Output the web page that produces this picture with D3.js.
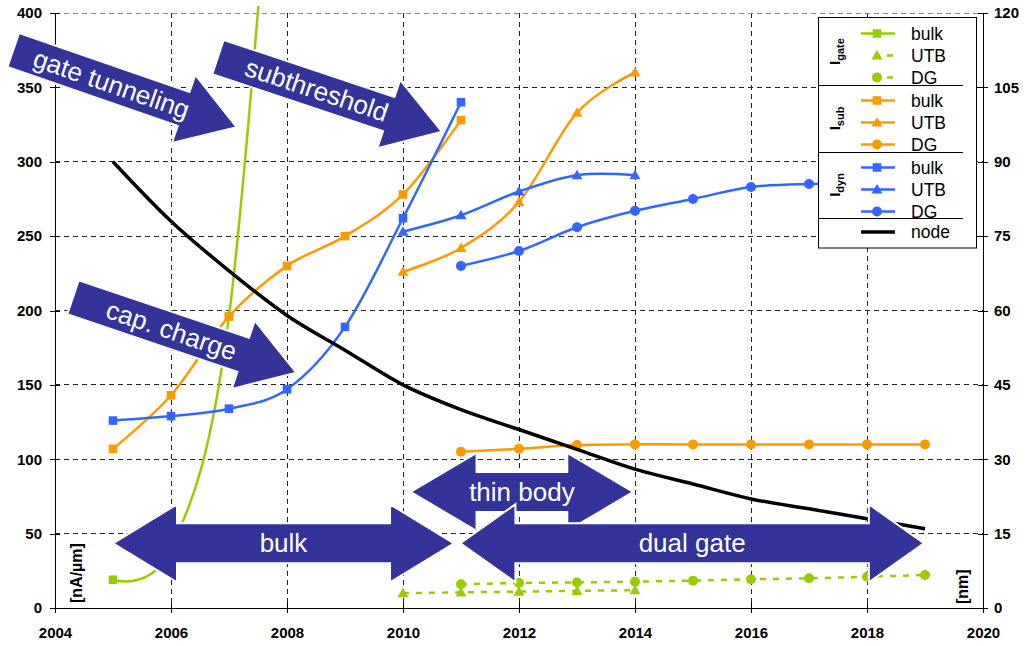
<!DOCTYPE html>
<html>
<head>
<meta charset="utf-8">
<script src="https://cdn.jsdelivr.net/npm/d3@7"></script>
<style>
  body { margin: 0; background: #fff; }
  svg { display: block; }
</style>
</head>
<body>
<svg id="chart" width="1030" height="646"></svg>
<script>
// ---- data: leakage / dynamic current (nA/µm) and technology node (nm) ----
const igateBulkYears = [2005, 2006, 2007, 2008];
const igateBulk      = [19, 40, 196, 650];
const igateUtbYears  = [2010, 2011, 2012, 2013, 2014];
const igateUtb       = [10, 10.5, 11, 11.5, 12];
const igateDgYears   = [2011, 2012, 2013, 2014, 2015, 2016, 2017, 2018, 2019];
const igateDg        = [16, 16.8, 17.2, 17.7, 18.4, 19.3, 20, 21, 22.2];

const isubBulkYears  = [2005, 2006, 2007, 2008, 2009, 2010, 2011];
const isubBulk       = [107, 143, 196, 230, 250, 278, 328];
const isubUtbYears   = [2010, 2011, 2012, 2013, 2014];
const isubUtb        = [226, 242, 273, 333, 360];
const isubDgYears    = [2011, 2012, 2013, 2014, 2015, 2016, 2017, 2018, 2019];
const isubDg         = [105, 107, 109.5, 110, 110, 110, 110, 110, 110];

const idynBulkYears  = [2005, 2006, 2007, 2008, 2009, 2010, 2011];
const idynBulk       = [126, 129, 134, 147, 189, 262, 340];
const idynUtbYears   = [2010, 2011, 2012, 2013, 2014];
const idynUtb        = [253, 264, 280, 291, 291];
const idynDgYears    = [2011, 2012, 2013, 2014, 2015, 2016, 2017, 2018, 2019];
const idynDg         = [230, 240, 256, 267, 275, 283, 285, 285, 285];

const nodeYears      = [2005, 2006, 2007, 2008, 2009, 2010, 2011, 2012, 2013, 2014, 2015, 2016, 2017, 2018, 2019];
const nodeNm         = [90, 78, 68, 59, 52, 45, 40, 36, 32, 28, 25, 22, 20, 18, 16];

// ---- axis ticks ----
const xTicks      = [2004, 2006, 2008, 2010, 2012, 2014, 2016, 2018, 2020];
const yLeftTicks  = [0, 50, 100, 150, 200, 250, 300, 350, 400];
const yRightTicks = [0, 15, 30, 45, 60, 75, 90, 105, 120];

// ---- legend labels ----
const legendGroups = ["gate", "sub", "dyn"];
const legendItems  = ["bulk", "UTB", "DG"];

// ---- annotation arrows (in data coordinates: year, nA/µm) ----
const slantArrows = [
  { text: "gate tunneling", from: [2003.28, 375.1], to: [2007.13, 323.2] },
  { text: "subthreshold",   from: [2006.81, 370.4], to: [2010.67, 320.2] },
  { text: "cap. charge",    from: [2004.31, 208.9], to: [2008.16, 158.2] }
];
const rangeArrows = [
  { text: "bulk",      from: 2005.0,  to: 2010.88, level: 43.5, head: 64 },
  { text: "thin body", from: 2010.13, to: 2013.97, level: 78,   head: 66 },
  { text: "dual gate", from: 2010.99, to: 2018.98, level: 43.5, head: 55 }
];

// ---- setup ----
const FONT = "'Liberation Sans', Arial, Helvetica, sans-serif";
const GREEN = "#99cc00", ORANGE = "#ff9900", BLUE = "#3366ff", ARROW = "#333399";

const svg = d3.select("#chart");
svg.append("rect").attr("width", 1030).attr("height", 646).attr("fill", "#fff");

const x  = d3.scaleLinear().domain([2004, 2020]).range([55, 983]);
const yL = d3.scaleLinear().domain([0, 400]).range([608, 13]);
const yR = d3.scaleLinear().domain([0, 120]).range([608, 13]);

svg.append("defs").append("clipPath").attr("id", "plotClip")
  .append("rect").attr("x", 55).attr("y", 6).attr("width", 928).attr("height", 602);

// grid
const grid = svg.append("g").attr("shape-rendering", "crispEdges");
grid.selectAll("line.v").data(xTicks.filter(t => t > 2004 && t < 2020)).join("line")
  .attr("x1", d => x(d)).attr("x2", d => x(d)).attr("y1", yL(400)).attr("y2", yL(0))
  .attr("stroke", "#222").attr("stroke-width", 1).attr("stroke-dasharray", "5,4");
grid.selectAll("line.h").data(yLeftTicks.filter(t => t > 0)).join("line")
  .attr("x1", x(2004)).attr("x2", x(2020)).attr("y1", d => yL(d)).attr("y2", d => yL(d))
  .attr("stroke", d => d === 400 ? "#888" : "#222").attr("stroke-width", 1)
  .attr("stroke-dasharray", "5,4");

// axes
function styleAxis(g) {
  g.attr("shape-rendering", "crispEdges");
  g.selectAll("text").attr("font-family", FONT).attr("font-size", 15)
    .attr("font-weight", "bold").attr("fill", "#000");
  g.selectAll("line").attr("stroke", "#000");
  g.select(".domain").remove();
}
const axL = svg.append("g").attr("transform", `translate(${x(2004)},0)`)
  .call(d3.axisLeft(yL).tickValues(yLeftTicks).tickSize(5).tickSizeOuter(0).tickPadding(8));
axL.selectAll(".tick line").attr("x1", 5);
styleAxis(axL);
const axB = svg.append("g").attr("transform", `translate(0,${yL(0)})`)
  .call(d3.axisBottom(x).tickValues(xTicks).tickFormat(d3.format("d")).tickSize(5).tickSizeOuter(0).tickPadding(14));
axB.selectAll(".tick line").attr("y1", -5);
styleAxis(axB);
const axR = svg.append("g").attr("transform", `translate(${x(2020)},0)`)
  .call(d3.axisRight(yR).tickValues(yRightTicks).tickSize(5).tickSizeOuter(0).tickPadding(6));
axR.selectAll(".tick line").attr("x1", -5);
styleAxis(axR);

const frame = svg.append("g").attr("shape-rendering", "crispEdges").attr("stroke", "#000");
frame.append("line").attr("x1", x(2004)).attr("x2", x(2004)).attr("y1", yL(400)).attr("y2", yL(0));
frame.append("line").attr("x1", x(2020)).attr("x2", x(2020)).attr("y1", yL(400)).attr("y2", yL(0));
frame.append("line").attr("x1", x(2004)).attr("x2", x(2020)).attr("y1", yL(0)).attr("y2", yL(0));

// unit labels
svg.append("text").attr("transform", `translate(82,603) rotate(-90)`)
  .attr("font-family", FONT).attr("font-size", 16).attr("font-weight", "bold").text("[nA/µm]");
svg.append("text").attr("transform", `translate(968,604) rotate(-90)`)
  .attr("font-family", FONT).attr("font-size", 16).attr("font-weight", "bold").text("[nm]");

// ---- series ----
const series = [
  { years: igateBulkYears, vals: igateBulk, color: GREEN,  shape: "square",   dash: null },
  { years: igateUtbYears,  vals: igateUtb,  color: GREEN,  shape: "triangle", dash: "6,7" },
  { years: igateDgYears,   vals: igateDg,   color: GREEN,  shape: "circle",   dash: "6,7" },
  { years: isubBulkYears,  vals: isubBulk,  color: ORANGE, shape: "square",   dash: null },
  { years: isubUtbYears,   vals: isubUtb,   color: ORANGE, shape: "triangle", dash: null },
  { years: isubDgYears,    vals: isubDg,    color: ORANGE, shape: "circle",   dash: null },
  { years: idynBulkYears,  vals: idynBulk,  color: BLUE,   shape: "square",   dash: null },
  { years: idynUtbYears,   vals: idynUtb,   color: BLUE,   shape: "triangle", dash: null },
  { years: idynDgYears,    vals: idynDg,    color: BLUE,   shape: "circle",   dash: null }
];

const curve = d3.curveCatmullRom.alpha(0);
const lineL = d3.line().x(d => x(d[0])).y(d => yL(d[1])).curve(curve);

function marker(g, shape, cx, cy, color) {
  if (shape === "square") {
    g.append("rect").attr("x", cx - 4.3).attr("y", cy - 4.3).attr("width", 8.6).attr("height", 8.6).attr("fill", color);
  } else if (shape === "triangle") {
    g.append("path").attr("d", `M${cx},${cy - 5.5}L${cx + 5.5},${cy + 4}L${cx - 5.5},${cy + 4}Z`).attr("fill", color);
  } else {
    g.append("circle").attr("cx", cx).attr("cy", cy).attr("r", 5).attr("fill", color);
  }
}

const plot = svg.append("g").attr("clip-path", "url(#plotClip)");
series.forEach(s => {
  const pts = s.years.map((yr, i) => [yr, s.vals[i]]);
  plot.append("path").attr("d", lineL(pts)).attr("fill", "none")
    .attr("stroke", s.color).attr("stroke-width", 2.5)
    .attr("stroke-dasharray", s.dash);
  pts.filter(p => p[1] <= 400).forEach(p => marker(plot, s.shape, x(p[0]), yL(p[1]), s.color));
});

// technology node (right axis)
const lineR = d3.line().x(d => x(d[0])).y(d => yR(d[1])).curve(curve);
plot.append("path").attr("d", lineR(nodeYears.map((yr, i) => [yr, nodeNm[i]])))
  .attr("fill", "none").attr("stroke", "#000").attr("stroke-width", 3.5);

// ---- annotation arrows ----
const arrows = svg.append("g");
const BODY = 18, HEAD_LEN = 56, HEAD_W = 36;
slantArrows.forEach(a => {
  const x0 = x(a.from[0]), y0 = yL(a.from[1]), x1 = x(a.to[0]), y1 = yL(a.to[1]);
  const L = Math.hypot(x1 - x0, y1 - y0);
  const ang = Math.atan2(y1 - y0, x1 - x0) * 180 / Math.PI;
  const g = arrows.append("g").attr("transform", `translate(${x0},${y0}) rotate(${ang})`);
  const pts = [[0, -BODY], [L - HEAD_LEN, -BODY], [L - HEAD_LEN, -HEAD_W], [L, 0],
               [L - HEAD_LEN, HEAD_W], [L - HEAD_LEN, BODY], [0, BODY]];
  g.append("path").attr("d", "M" + pts.join("L") + "Z").attr("fill", ARROW)
    .attr("stroke", "#fff").attr("stroke-width", 2);
  g.append("text").attr("x", 104).attr("y", 0).attr("text-anchor", "middle")
    .attr("dominant-baseline", "central").attr("font-family", FONT).attr("font-size", 26)
    .attr("fill", "#fff").text(a.text);
});

const RBODY = 20, RHEAD_W = 39;
rangeArrows.forEach(a => {
  const xl = x(a.from), xr = x(a.to), yc = yL(a.level), h = a.head;
  const pts = [[xl, yc], [xl + h, yc - RHEAD_W], [xl + h, yc - RBODY], [xr - h, yc - RBODY],
               [xr - h, yc - RHEAD_W], [xr, yc], [xr - h, yc + RHEAD_W], [xr - h, yc + RBODY],
               [xl + h, yc + RBODY], [xl + h, yc + RHEAD_W]];
  arrows.append("path").attr("d", "M" + pts.join("L") + "Z").attr("fill", ARROW)
    .attr("stroke", "#fff").attr("stroke-width", 2);
  arrows.append("text").attr("x", (xl + xr) / 2).attr("y", yc).attr("text-anchor", "middle")
    .attr("dominant-baseline", "central").attr("font-family", FONT).attr("font-size", 26)
    .attr("fill", "#fff").text(a.text);
});

// ---- legend ----
const lg = svg.append("g");
lg.append("rect").attr("x", 818.5).attr("y", 17.5).attr("width", 158).attr("height", 230.5)
  .attr("fill", "#fff").attr("stroke", "#000").attr("stroke-width", 1);
const groupTop = [18, 85, 152, 218];
[85, 152, 218].forEach(yy => lg.append("line").attr("x1", 818.5).attr("x2", 963)
  .attr("y1", yy + 0.5).attr("y2", yy + 0.5).attr("stroke", "#000"));

legendGroups.forEach((name, gi) => {
  const top = groupTop[gi], bottom = groupTop[gi + 1];
  const label = lg.append("text")
    .attr("transform", `translate(840,${(top + bottom) / 2}) rotate(-90)`)
    .attr("text-anchor", "middle").attr("font-family", FONT).attr("font-weight", "bold");
  label.append("tspan").attr("font-size", 15).text("I");
  label.append("tspan").attr("font-size", 11).attr("dy", 4).text(name);
  legendItems.forEach((item, ii) => {
    const s = series[gi * 3 + ii];
    const ry = top + 15.5 + ii * 22;
    lg.append("line").attr("x1", s.dash ? 874 : 861).attr("x2", 895).attr("y1", ry).attr("y2", ry)
      .attr("stroke", s.color).attr("stroke-width", 2.5).attr("stroke-dasharray", s.dash);
    marker(lg, s.shape, 877, ry, s.color);
    lg.append("text").attr("x", 911).attr("y", ry).attr("dominant-baseline", "central")
      .attr("font-family", FONT).attr("font-size", 17.5).text(item);
  });
});
lg.append("line").attr("x1", 861).attr("x2", 895).attr("y1", 232).attr("y2", 232)
  .attr("stroke", "#000").attr("stroke-width", 3.5);
lg.append("text").attr("x", 911).attr("y", 232).attr("dominant-baseline", "central")
  .attr("font-family", FONT).attr("font-size", 17.5).text("node");
</script>
</body>
</html>
